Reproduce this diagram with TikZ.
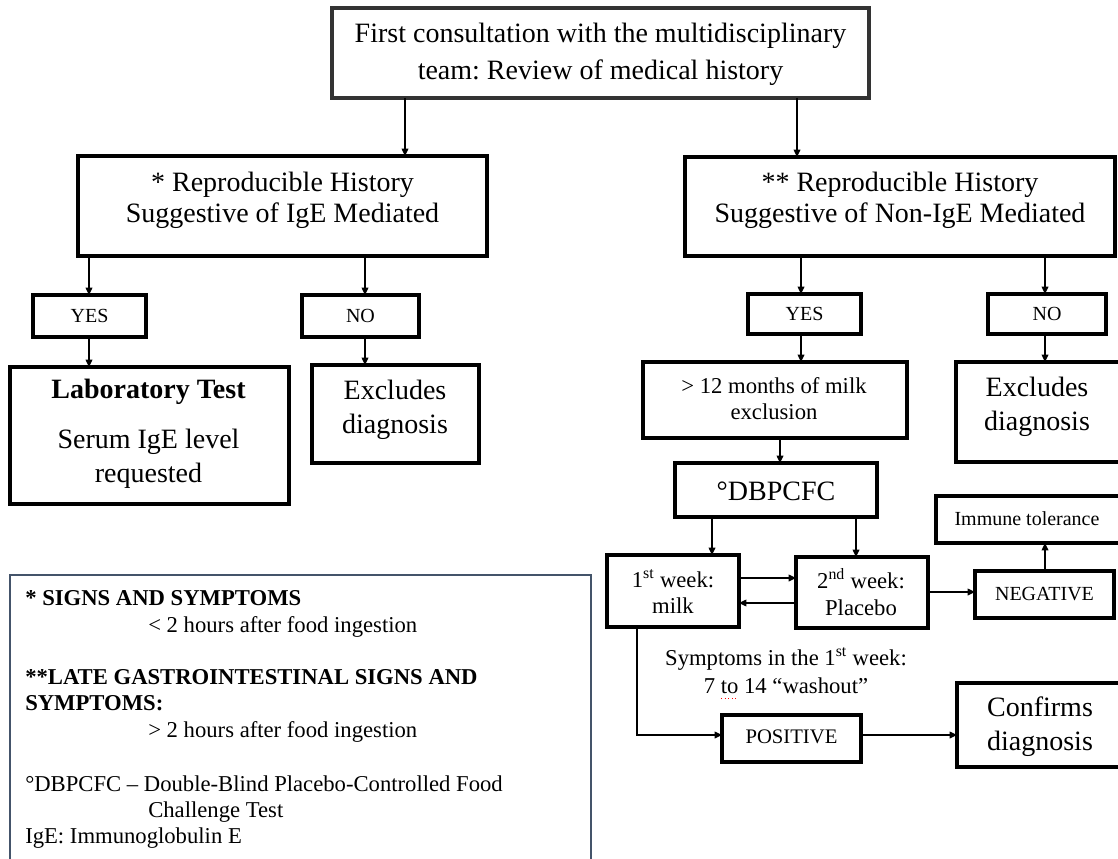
\documentclass[tikz,border=0pt]{standalone}
\usepackage{fontspec}
\setmainfont{Liberation Serif}
\usetikzlibrary{arrows.meta}
\definecolor{legendframe}{HTML}{44546A}
\definecolor{topframe}{HTML}{333333}
\frenchspacing

\begin{document}
\begin{tikzpicture}[x=0.75pt,y=-0.75pt,
  box/.style={draw, line width=3pt, inner sep=0pt, outer sep=0pt},
  sz/.style 2 args={minimum width=#1*0.75pt, minimum height=#2*0.75pt},
  arr/.style={line width=1pt, -{Triangle[length=5.5pt,width=5pt]}},
  bigtxt/.style={font=\fontsize{21}{#1}\selectfont, align=center, inner sep=0pt},
  midtxt/.style={font=\fontsize{17}{#1}\selectfont, align=center, inner sep=0pt},
  smalltxt/.style={font=\fontsize{15}{18}\selectfont, inner sep=0pt, anchor=base},
  legtxt/.style={font=\fontsize{17}{20}\selectfont, inner sep=0pt, anchor=base west},
]
\useasboundingbox (0,0) rectangle (1118,859);

% ---------- boxes ----------
\node[box, draw=topframe, sz={537}{90}] (top) at (600.5,53) {};
\node[box, sz={409}{100}] (l2l) at (282.5,206) {};
\node[box, sz={430}{99}] (l2r) at (900,206.5) {};
\node[box, sz={113}{42}] (yesl) at (89.5,316) {};
\node[box, sz={117}{42}] (nol) at (360.5,316) {};
\node[box, sz={113}{40}] (yesr) at (804.5,314) {};
\node[box, sz={118}{40}] (nor) at (1047,314) {};
\node[box, sz={279}{137}] (lab) at (149.5,435.5) {};
\node[box, sz={167}{98}] (exl) at (395.5,414) {};
\node[box, sz={264}{76}] (m12) at (775,400) {};
\node[box, sz={169}{100}] (exr) at (1040.5,412) {};
\node[box, sz={202}{54}] (dbp) at (776,490) {};
\node[box, sz={132}{72}] (w1) at (673,591) {};
\node[box, sz={132}{71}] (w2) at (862,592.5) {};
\node[box, sz={139}{47}] (neg) at (1044.5,594.5) {};
\node[box, line width=2.6pt, sz={189}{47}] (imm) at (1030.5,519.5) {};
\node[box, sz={139}{47}] (pos) at (791.5,738.5) {};
\node[box, sz={168}{84}] (conf) at (1041,725) {};

% ---------- box texts ----------
\node[bigtxt=27.75pt] (top-t) at (600.5,54.1)
  {\strut First consultation with the multidisciplinary\\\strut team: Review of medical history};
\node[bigtxt=23.25pt] (l2l-t) at (282.5,201.3)
  {\strut * Reproducible History\\\strut Suggestive of IgE Mediated};
\node[bigtxt=23.25pt] (l2r-t) at (900,201.3)
  {\strut ** Reproducible History\\\strut Suggestive of Non-IgE Mediated};
\node[smalltxt] (yesl-t) at (89.5,323) {YES};
\node[smalltxt] (nol-t) at (360.5,323) {NO};
\node[smalltxt] (yesr-t) at (804.5,321) {YES};
\node[smalltxt] (nor-t) at (1047,321) {NO};
\node[bigtxt=25.5pt] (lab-t) at (148.5,433.2)
  {\strut\textbf{Laboratory Test}\\[12pt]\strut Serum IgE level\\\strut requested};
\node[bigtxt=24.75pt] (exl-t) at (395,409.9) {\strut Excludes\\\strut diagnosis};
\node[midtxt=20.25pt] (m12-t) at (774,401.1) {\strut > 12 months of milk\\\strut exclusion};
\node[bigtxt=25.5pt] (exr-t) at (1037,407.2) {\strut Excludes\\\strut diagnosis};
\node[bigtxt=25pt, anchor=base] (dbp-t) at (776,500) {°DBPCFC};
\node[midtxt=19.5pt] (w1-t) at (673,594.8) {\strut 1\textsuperscript{st} week:\\\strut milk};
\node[midtxt=20.25pt] (w2-t) at (861,596.1) {\strut 2\textsuperscript{nd} week:\\\strut Placebo};
\node[smalltxt] (neg-t) at (1044.5,600) {NEGATIVE};
\node[smalltxt] (imm-t) at (1027,525) {Immune tolerance};
\node[smalltxt, font=\fontsize{15.5}{18}\selectfont] (pos-t) at (791.5,743) {POSITIVE};
\node[bigtxt=25.5pt] (conf-t) at (1040,726.2) {\strut Confirms\\\strut diagnosis};
\node[midtxt=21pt] (sym-t) at (786,673.4)
  {\strut Symptoms in the 1\textsuperscript{st} week:\\\strut 7 to 14 “washout”};
\draw[red, line width=0.7pt, dotted] (721,698) -- (738,698);

% ---------- connector guides ----------
\coordinate (a1) at (405,0);
\coordinate (a2) at (797,0);
\coordinate (a3) at (89,0);
\coordinate (a4) at (365,0);
\coordinate (a5) at (801,0);
\coordinate (a6) at (1045,0);
\coordinate (a7) at (780,0);
\coordinate (a8) at (712,0);
\coordinate (a9) at (856,0);
\coordinate (b1) at (0,578);
\coordinate (b2) at (0,603);
\coordinate (b3) at (0,592);
\coordinate (cpos) at (637,735);

% ---------- connectors ----------
\draw[arr] (top.south -| a1) -- (l2l.north -| a1);
\draw[arr] (top.south -| a2) -- (l2r.north -| a2);
\draw[arr] (l2l.south -| a3) -- (yesl.north -| a3);
\draw[arr] (l2l.south -| a4) -- (nol.north -| a4);
\draw[arr] (yesl.south -| a3) -- (lab.north -| a3);
\draw[arr] (nol.south -| a4) -- (exl.north -| a4);
\draw[arr] (l2r.south -| a5) -- (yesr.north -| a5);
\draw[arr] (l2r.south -| a6) -- (nor.north -| a6);
\draw[arr] (yesr.south -| a5) -- (m12.north -| a5);
\draw[arr] (nor.south -| a6) -- (exr.north -| a6);
\draw[arr] (m12.south -| a7) -- (dbp.north -| a7);
\draw[arr] (dbp.south -| a8) -- (w1.north -| a8);
\draw[arr] (dbp.south -| a9) -- (w2.north -| a9);
\draw[arr] (w1.east |- b1) -- (w2.west |- b1);
\draw[arr] (w2.west |- b2) -- (w1.east |- b2);
\draw[arr] (w2.east |- b3) -- (neg.west |- b3);
\draw[arr] (neg.north -| a6) -- (imm.south -| a6);
\draw[arr] (w1.south -| cpos) -- (cpos) -- (pos.west |- cpos);
\draw[arr] (pos.east |- cpos) -- (conf.west |- cpos);

% ---------- legend ----------
\draw[legendframe, line width=1.5pt] (10,880) -- (10,575) -- (591,575) -- (591,880);
\node[legtxt] (leg1) at (25,605) {\textbf{* SIGNS AND SYMPTOMS}};
\node[legtxt] (leg2) at (148,632) {< 2 hours after food ingestion};
\node[legtxt] (leg3) at (25,684) {\textbf{**LATE GASTROINTESTINAL SIGNS AND}};
\node[legtxt] (leg4) at (25,710) {\textbf{SYMPTOMS:}};
\node[legtxt] (leg5) at (148,737) {> 2 hours after food ingestion};
\node[legtxt] (leg6) at (25,791) {°DBPCFC – Double-Blind Placebo-Controlled Food};
\node[legtxt] (leg7) at (148,817) {Challenge Test};
\node[legtxt] (leg8) at (25,843) {IgE: Immunoglobulin E};
\end{tikzpicture}
\end{document}
